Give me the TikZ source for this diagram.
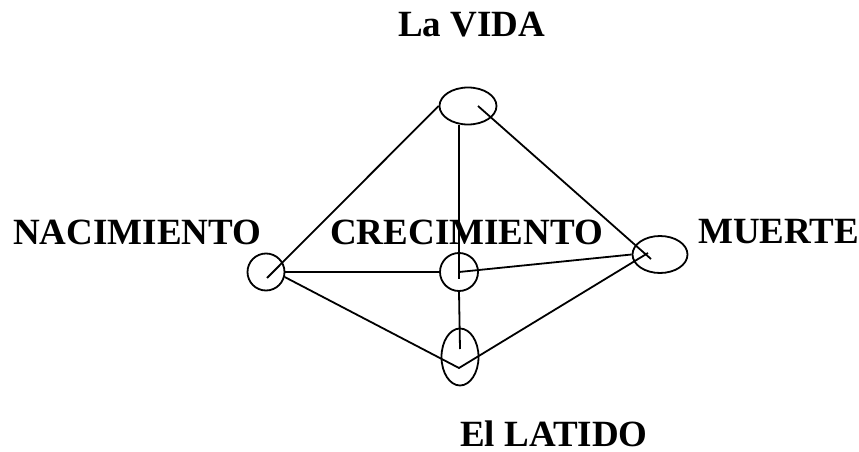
\documentclass[tikz,border=0pt]{standalone}
\usepackage{fontspec}
\setmainfont{Liberation Serif}
\usetikzlibrary{calc,positioning,shapes.geometric}
\tikzset{%
	etapa/.style  = {draw, ellipse, inner sep=0pt, line width=1.8pt},
	rotulo/.style = {inner sep=0pt, anchor=base west, font=\fontsize{37}{40}\selectfont\bfseries},
	enlace/.style = {line width=1.8pt},
}
\begin{document}
\begin{tikzpicture}[x=1pt,y=-1pt]
		\useasboundingbox (0,0) rectangle (859,452);
		
		\node[etapa, minimum width=57pt, minimum height=37pt] (vida) at (468,106) {};
		\node[etapa, minimum size=37pt] (nac) at (266,272) {};
		\node[etapa, minimum size=38pt] (crec) at (459,272) {};
		\node[etapa, minimum width=55pt, minimum height=37pt] (muerte) at (660,254.5) {};
		\node[etapa, minimum width=37pt, minimum height=57pt] (latido) at (460,357) {};
		
		\node[rotulo] (tvida) at (398,37) {La VIDA};
		\node[rotulo] (tnac) at (13,244) {NACIMIENTO};
		\node[rotulo] (tcrec) at (330,244) {CRECIMIENTO};
		\node[rotulo] (tmuerte) at (698,243) {MUERTE};
		\node[rotulo] (tlatido) at (460,446) {El LATIDO};
		
		\draw[enlace] (vida.west) -- ($(nac.center)+(1,6)$);
		\draw[enlace] ($(vida.center)+(10,0)$) -- ($(muerte.center)+(-9,4.5)$);
		\draw[enlace] (crec.center |- vida.south) -- ($(crec.center)+(0,7)$);
		\draw[enlace] (nac.east) -- (crec.west);
		\draw[enlace] (crec.center) -- (muerte.west);
		\draw[enlace] (crec.south) -- ($(latido.center)+(0,-8)$);
		\draw[enlace] (nac.-15) -- ($(latido.center)+(-1,11)$) -- ($(muerte.center)+(-12,-1.5)$);
\end{tikzpicture}
\end{document}
